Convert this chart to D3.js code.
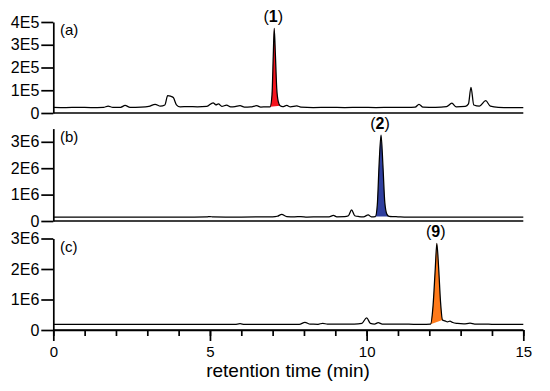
<!DOCTYPE html>
<html><head><meta charset="utf-8">
<script src="https://cdn.jsdelivr.net/npm/d3@7"></script>
<style>
body{margin:0;background:#fff}
text{font-family:Arial,"Liberation Sans",Helvetica,sans-serif;fill:#000}
</style>
</head><body>
<svg id="chart" width="550" height="391"></svg>
<script>
// ---- data (intensity in thousands of counts) ----
const timeA = [0,0.4,0.8,1.2,1.6,1.75,1.9,2.15,2.29,2.45,2.8,3.05,3.25,3.42,3.56,3.65,3.74,3.83,3.93,4.05,4.3,4.6,4.9,5.1,5.19,5.27,5.38,5.53,5.66,5.8,5.96,6.1,6.3,6.49,6.62,6.8,6.92,6.98,7.02,7.05,7.09,7.13,7.18,7.24,7.32,7.45,7.57,7.77,7.9,8.3,8.8,9.3,9.8,10.3,10.8,11.3,11.55,11.67,11.8,12.2,12.55,12.72,12.86,13.15,13.25,13.33,13.42,13.6,13.8,13.95,14.2,14.6,15];
const signalA = [25,24,25,24,25,30,25,25,33,25,26,29,38,30,35,76,74,68,36,27,28,27,29,45,36,40,29,35,27,28,32,26,27,32,26,27,27,80,250,372,250,110,50,32,28,33,27,31,26,24,25,24,25,24,25,25,26,38,26,25,28,43,27,29,40,113,35,30,54,30,25,24,24];

const timeB = [0,0.5,1,1.5,2,2.5,3,3.5,4,4.5,4.9,5.0,5.1,5.5,6,6.5,7.0,7.15,7.29,7.45,7.7,7.9,8.1,8.5,8.8,8.94,9.05,9.3,9.42,9.52,9.62,9.75,9.9,10.05,10.15,10.28,10.34,10.4,10.46,10.52,10.58,10.65,10.72,10.85,11.0,11.2,11.6,12,12.5,13,13.5,14,14.5,15];
const signalB = [150,148,150,147,150,148,150,147,150,150,155,170,152,150,150,155,160,180,250,170,160,170,150,160,155,210,160,165,200,420,200,170,160,230,160,170,600,2200,3250,2100,700,250,175,165,160,150,150,150,150,150,150,150,150,150];

const timeC = [0,0.5,1,1.5,2,2.5,3,3.5,4,4.5,5,5.5,5.8,5.96,6.1,6.5,7,7.5,7.85,8.03,8.2,8.45,8.6,8.75,9.2,9.6,9.85,10.0,10.12,10.25,10.37,10.5,11,11.5,11.9,12.04,12.12,12.19,12.24,12.3,12.36,12.42,12.5,12.58,12.66,12.75,12.9,13.1,13.3,13.45,14,14.5,15];
const signalC = [185,183,185,182,185,183,185,182,184,183,185,183,186,205,186,185,184,186,188,250,190,188,220,190,192,195,220,400,215,192,240,195,190,188,186,190,800,2000,2840,2000,900,330,300,265,290,245,215,200,225,195,188,185,185];

const panelLabels = ["(a)", "(b)", "(c)"];
const peakNames = ["1", "2", "9"];
const peakWindows = [[6.92, 7.24], [10.28, 10.72], [12.04, 12.42]];
const peakColors = ["#f5141e", "#2f3f9e", "#ff7a1a"];
const yMaxes = [400, 3500, 3000];
const yTicksA = [0, 100, 200, 300, 400];
const yTickLabelsA = ["0", "1E5", "2E5", "3E5", "4E5"];
const yTicksBC = [0, 1000, 2000, 3000];
const yTickLabelsBC = ["0", "1E6", "2E6", "3E6"];
const xTicksMinor = [0,1,2,3,4,5,6,7,8,9,10,11,12,13,14,15];
const xTicksMajor = [0, 5, 10, 15];
const xTitle = "retention time (min)";

// ---- layout ----
const svg = d3.select("#chart");
const x = d3.scaleLinear().domain([0, 15]).range([53.3, 523.3]);
const panels = [
  {t: timeA, v: signalA, range: [113, 22], ticks: yTicksA, labels: yTickLabelsA},
  {t: timeB, v: signalB, range: [221, 128.6], ticks: yTicksBC, labels: yTickLabelsBC},
  {t: timeC, v: signalC, range: [330, 238.5], ticks: yTicksBC, labels: yTickLabelsBC}
];

panels.forEach((p, i) => {
  const y = d3.scaleLinear().domain([0, yMaxes[i]]).range(p.range);
  const pts = p.t.map((t, k) => [t, p.v[k]]);
  const line = d3.line().x(d => x(d[0])).y(d => y(d[1])).curve(d3.curveMonotoneX);

  // peak fill
  const w = peakWindows[i];
  const sub = pts.filter(d => d[0] >= w[0] - 1e-9 && d[0] <= w[1] + 1e-9);
  svg.append("path").attr("d", line(sub) + "Z")
    .attr("fill", peakColors[i]).attr("stroke", "none");

  // baseline axis line
  svg.append("line").attr("x1", x(0)).attr("x2", x(15))
    .attr("y1", y(0)).attr("y2", y(0))
    .attr("stroke", "#000").attr("stroke-width", 1.7);

  // signal
  svg.append("path").attr("d", line(pts)).attr("fill", "none")
    .attr("stroke", "#000").attr("stroke-width", 1.25).attr("stroke-linejoin", "round");

  // y axis
  const ax = svg.append("g").attr("transform", `translate(${x(0)},0)`)
    .call(d3.axisLeft(y).tickValues(p.ticks).tickFormat((d, k) => p.labels[k])
      .tickSize(12).tickPadding(2).tickSizeOuter(0));
  ax.selectAll("path,line").attr("stroke", "#000").attr("stroke-width", 1.7);
  ax.selectAll("text").attr("font-size", 16).attr("font-family", "Arial, Liberation Sans, sans-serif");

  // panel label
  svg.append("text").attr("x", 60).attr("y", p.range[1] + 13)
    .attr("font-size", 15).text(panelLabels[i]);

  // peak label
  let apex = sub[0];
  sub.forEach(d => { if (d[1] > apex[1]) apex = d; });
  const lbl = svg.append("text").attr("x", x(apex[0]) - 1).attr("y", y(apex[1]) - 6)
    .attr("text-anchor", "middle").attr("font-size", 16);
  lbl.append("tspan").text("(");
  lbl.append("tspan").attr("font-weight", "bold").text(peakNames[i]);
  lbl.append("tspan").text(")");
});

// x axis (bottom panel)
const yBase = 330;
const minor = svg.append("g").attr("transform", `translate(0,${yBase})`)
  .call(d3.axisBottom(x).tickValues(xTicksMinor).tickFormat("").tickSize(6).tickSizeOuter(0));
minor.selectAll("path,line").attr("stroke", "#000").attr("stroke-width", 1.7);
const major = svg.append("g").attr("transform", `translate(0,${yBase})`)
  .call(d3.axisBottom(x).tickValues(xTicksMajor).tickFormat(d3.format("d")).tickSize(11).tickPadding(5).tickSizeOuter(0));
major.select("path").remove();
major.selectAll("line").attr("stroke", "#000").attr("stroke-width", 1.7);
major.selectAll("text").attr("font-size", 15).attr("font-family", "Arial, Liberation Sans, sans-serif");

svg.append("text").attr("x", 288).attr("y", 377).attr("text-anchor", "middle")
  .attr("font-size", 19).text(xTitle);
</script>
</body></html>
